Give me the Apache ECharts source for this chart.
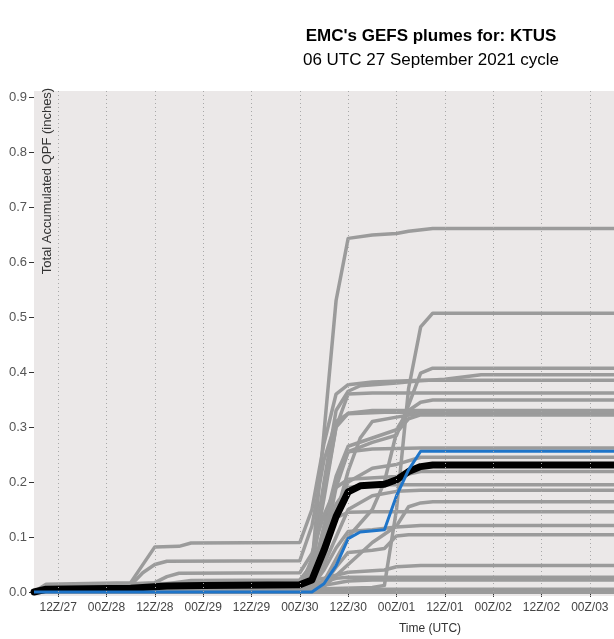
<!DOCTYPE html>
<html>
<head>
<meta charset="utf-8">
<script src="https://cdn.jsdelivr.net/npm/echarts@6/dist/echarts.min.js"></script>
<style>
  html, body { margin: 0; padding: 0; background: #fff; }
  #plume { width: 614px; height: 639px; }
</style>
</head>
<body>
<div id="plume"></div>
<script>
// x = hours since the 06Z/27 cycle start
var tickHours = [6, 18, 30, 42, 54, 66, 78, 90, 102, 114, 126, 138];
var tickLabels = ['12Z/27', '00Z/28', '12Z/28', '00Z/29', '12Z/29', '00Z/30',
                  '12Z/30', '00Z/01', '12Z/01', '00Z/02', '12Z/02', '00Z/03'];
var yTicks = [0, 0.1, 0.2, 0.3, 0.4, 0.5, 0.6, 0.7, 0.8, 0.9];

// ensemble members, [hour, accumulated QPF] read at the bends of each plume
var p01 = [[0,0],[3,0.003],[66,0.005],[69,0.05],[72,0.29],[75,0.53],[78,0.643],[84,0.649],[90,0.652],[93,0.656],[99,0.661],[144,0.661]];
var p02 = [[0,0],[3,0.002],[66,0.003],[72,0.006],[84,0.008],[87,0.012],[90,0.15],[93,0.37],[96,0.482],[99,0.507],[144,0.507]];
var p03 = [[0,0],[3,0.002],[66,0.003],[69,0.015],[72,0.08],[75,0.19],[78,0.255],[84,0.272],[90,0.285],[93,0.34],[96,0.398],[99,0.407],[144,0.407]];
var p04 = [[0,0],[3,0.004],[66,0.008],[69,0.06],[72,0.2],[75,0.33],[78,0.365],[81,0.375],[90,0.38],[96,0.384],[102,0.387],[111,0.395],[144,0.395]];
var p05 = [[0,0],[3,0.014],[24,0.017],[30,0.082],[36,0.083],[39,0.089],[66,0.09],[69,0.15],[72,0.27],[75,0.36],[78,0.377],[84,0.382],[96,0.385],[144,0.385]];
var p06 = [[0,0],[3,0.003],[66,0.006],[69,0.05],[72,0.17],[75,0.3],[78,0.36],[84,0.362],[144,0.362]];
var p07 = [[0,0],[3,0.002],[66,0.004],[69,0.03],[72,0.12],[75,0.21],[78,0.265],[84,0.28],[90,0.295],[93,0.33],[96,0.345],[99,0.349],[144,0.349]];
var p08 = [[0,0],[3,0.004],[66,0.006],[69,0.04],[72,0.18],[75,0.3],[78,0.325],[84,0.33],[144,0.33]];
var p09 = [[0,0],[3,0.006],[24,0.012],[27,0.035],[30,0.05],[33,0.056],[66,0.057],[69,0.12],[72,0.24],[75,0.31],[78,0.324],[87,0.327],[144,0.327]];
var p10 = [[0,0],[3,0.002],[66,0.003],[69,0.01],[72,0.06],[75,0.14],[78,0.22],[81,0.28],[84,0.31],[90,0.318],[96,0.325],[144,0.325]];
var p11 = [[0,0],[3,0.002],[66,0.003],[72,0.02],[75,0.06],[78,0.1],[84,0.15],[87,0.2],[90,0.29],[93,0.315],[96,0.322],[144,0.322]];
var p12 = [[0,0],[3,0.003],[66,0.005],[69,0.03],[72,0.1],[75,0.2],[78,0.255],[84,0.26],[96,0.262],[144,0.262]];
var p13 = [[0,0],[3,0.002],[66,0.004],[69,0.02],[72,0.07],[75,0.15],[78,0.2],[84,0.225],[90,0.232],[96,0.245],[144,0.245]];
var p14 = [[0,0],[3,0.008],[30,0.017],[33,0.028],[36,0.034],[66,0.035],[69,0.07],[72,0.14],[75,0.19],[78,0.205],[90,0.21],[96,0.219],[144,0.219]];
var p15 = [[0,0],[3,0.002],[66,0.004],[69,0.02],[72,0.08],[75,0.16],[78,0.19],[84,0.195],[144,0.195]];
var p16 = [[0,0],[3,0.003],[66,0.004],[69,0.01],[72,0.05],[75,0.1],[78,0.15],[84,0.175],[90,0.183],[96,0.185],[144,0.185]];
var p17 = [[0,0],[3,0.001],[66,0.002],[72,0.01],[78,0.05],[84,0.09],[90,0.12],[93,0.155],[96,0.162],[99,0.164],[144,0.164]];
var p18 = [[0,0],[3,0.005],[33,0.015],[39,0.021],[66,0.022],[69,0.05],[72,0.1],[75,0.135],[78,0.145],[84,0.146],[144,0.146]];
var p19 = [[0,0],[3,0.002],[66,0.003],[69,0.01],[72,0.04],[75,0.08],[78,0.11],[84,0.113],[90,0.118],[96,0.121],[144,0.121]];
var p20 = [[0,0],[3,0.001],[66,0.002],[72,0.015],[75,0.045],[78,0.072],[84,0.076],[87,0.079],[90,0.102],[93,0.104],[144,0.104]];
var p21 = [[0,0],[3,0.012],[24,0.015],[66,0.017],[72,0.025],[78,0.036],[87,0.04],[90,0.046],[96,0.048],[144,0.048]];
var p22 = [[0,0],[3,0.01],[66,0.012],[72,0.018],[75,0.025],[78,0.027],[144,0.027]];
var p23 = [[0,0],[3,0.003],[66,0.005],[72,0.012],[78,0.02],[84,0.022],[144,0.022]];
var p24 = [[0,0],[3,0.002],[66,0.003],[78,0.005],[144,0.005]];
var p25 = [[0,0],[3,0.001],[72,0.003],[144,0.003]];
var p26 = [[0,0],[72,0.001],[78,0.002],[144,0.002]];
var p27 = [[0,0],[144,0.001]];
var p28 = [[0,0],[144,0]];
var p29 = [[0,0],[144,0]];
var p30 = [[0,0],[144,0]];

// blue control run and black ensemble mean
var ctl = [[0,0],[69,0],[72,0.015],[75,0.048],[78,0.097],[81,0.109],[87,0.113],[90,0.175],[93,0.222],[96,0.256],[144,0.256]];
var ensMean = [[0,0],[3,0.005],[24,0.007],[33,0.011],[42,0.012],[66,0.013],[69,0.022],[72,0.076],[75,0.137],[78,0.182],[81,0.193],[87,0.196],[90,0.204],[93,0.219],[96,0.228],[99,0.231],[144,0.231]];

var members = [p01,p02,p03,p04,p05,p06,p07,p08,p09,p10,p11,p12,p13,p14,p15,
               p16,p17,p18,p19,p20,p21,p22,p23,p24,p25,p26,p27,p28,p29,p30];

var font = 'Liberation Sans, Arial, sans-serif';

var series = [];
members.forEach(function (m) {
    series.push({
        type: 'line', data: m, symbol: 'none', silent: true,
        lineStyle: { color: '#9b9b9b', width: 3.5, join: 'round', cap: 'round' }
    });
});
series.push({
    type: 'line', data: ensMean, symbol: 'none', silent: true,
    lineStyle: { color: '#000', width: 7, join: 'round', cap: 'round' }
});
series.push({
    type: 'line', data: ctl, symbol: 'none', silent: true,
    lineStyle: { color: '#1f75c9', width: 3, join: 'round' },
    // dotted time grid drawn on top, like the original
    markLine: {
        silent: true, symbol: 'none', label: { show: false },
        lineStyle: { color: '#a8a8a8', width: 1, type: [1, 3] },
        data: tickHours.map(function (h) { return { xAxis: h }; })
    }
});

var chart = echarts.init(document.getElementById('plume'));
chart.setOption({
    animation: false,
    backgroundColor: '#fff',
    title: [
        { text: "EMC's GEFS plumes for: KTUS", left: 431, top: 28, textAlign: 'center', padding: 0,
          textStyle: { fontFamily: font, fontSize: 17, fontWeight: 'bold', color: '#000' } },
        { text: '06 UTC 27 September 2021 cycle', left: 431, top: 52, textAlign: 'center', padding: 0,
          textStyle: { fontFamily: font, fontSize: 17, fontWeight: 'normal', color: '#000' } }
    ],
    grid: { left: 34, right: 0, top: 91, bottom: 43, show: true, backgroundColor: '#ebe8e8', borderWidth: 0 },
    xAxis: {
        type: 'value', min: 0, max: 144,
        axisLine: { show: false },
        axisTick: { show: true, length: 5, customValues: tickHours, lineStyle: { color: '#333' } },
        axisLabel: {
            customValues: tickHours, margin: 6, color: '#444', fontSize: 12, fontFamily: font,
            formatter: function (v) { return tickLabels[tickHours.indexOf(v)]; }
        },
        splitLine: { show: false }
    },
    yAxis: {
        type: 'value', min: -0.0073, max: 0.911,
        axisLine: { show: false },
        axisTick: { show: true, length: 5, customValues: yTicks, lineStyle: { color: '#333' } },
        axisLabel: {
            customValues: yTicks, margin: 7, color: '#555', fontSize: 13, fontFamily: font,
            formatter: function (v) { return v.toFixed(1); }
        },
        splitLine: { show: false }
    },
    graphic: [
        { type: 'text', x: 47, y: 181, rotation: Math.PI / 2, z: 100,
          style: { text: 'Total Accumulated QPF (inches)', font: '13px ' + font, fill: '#333',
                   textAlign: 'center', textVerticalAlign: 'middle', align: 'center', verticalAlign: 'middle' } },
        { type: 'text', x: 430, y: 629, z: 100,
          style: { text: 'Time (UTC)', font: '12px ' + font, fill: '#333',
                   textAlign: 'center', textVerticalAlign: 'middle', align: 'center', verticalAlign: 'middle' } }
    ],
    series: series
});
</script>
</body>
</html>
